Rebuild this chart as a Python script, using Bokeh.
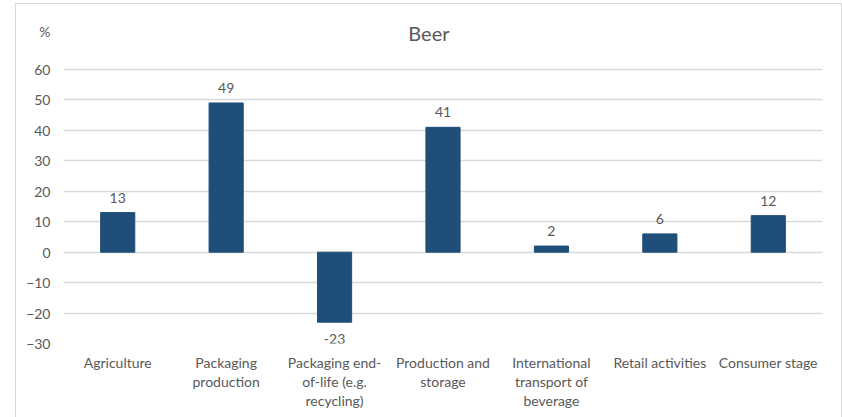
from bokeh.plotting import figure
from bokeh.models import ColumnDataSource, LabelSet, FixedTicker
from bokeh.core.properties import value
from bokeh.embed import file_html
from bokeh.resources import INLINE

# Life-cycle stages and their contribution (%) to beer's footprint
stages = [
    "Agriculture",
    "Packaging\nproduction",
    "Packaging end-\nof-life (e.g.\nrecycling)",
    "Production and\nstorage",
    "International\ntransport of\nbeverage",
    "Retail activities",
    "Consumer stage",
]
shares = [13, 49, -23, 41, 2, 6, 12]
y_ticks = [-30, -20, -10, 0, 10, 20, 30, 40, 50, 60]
title = "Beer"
unit = "%"

BAR = "#1F4E79"
TEXT = "#595959"
GRID = "#D9D9D9"
FONT = "Lato"

# headroom above the 60 gridline holds the unit and the title
Y_TOP = 81.35
UNIT_Y = 72.5
TITLE_Y = 71.9

p = figure(
    x_range=stages, y_range=(-30, Y_TOP),
    frame_width=759, frame_height=339,
    output_backend="svg", toolbar_location=None,
    min_border_left=47, min_border_right=19,
    min_border_top=0, min_border_bottom=84,
)
p.outline_line_color = None
p.background_fill_color = "white"
p.border_fill_color = "white"
# light frame around the chart area
p.styles = {"margin-left": "16px", "margin-top": "4px",
            "outline": "1.5px solid #D9D9D9"}

p.vbar(x=stages, top=shares, bottom=0, width=0.315, color=BAR)

# value labels above positive bars and below negative ones
pos = ColumnDataSource(dict(
    stage=[s for s, v in zip(stages, shares) if v >= 0],
    share=[v for v in shares if v >= 0],
    label=[str(v) for v in shares if v >= 0],
))
neg = ColumnDataSource(dict(
    stage=[s for s, v in zip(stages, shares) if v < 0],
    share=[v for v in shares if v < 0],
    label=[str(v) for v in shares if v < 0],
))
p.add_layout(LabelSet(x="stage", y="share", text="label", source=pos,
                      text_align="center", text_baseline="bottom", y_offset=10,
                      text_font=value(FONT), text_font_size="14px", text_color=TEXT))
p.add_layout(LabelSet(x="stage", y="share", text="label", source=neg,
                      text_align="center", text_baseline="top", y_offset=-12,
                      text_font=value(FONT), text_font_size="14px", text_color=TEXT))

# value axis: numeric ticks plus the unit sign on top
p.yaxis.ticker = FixedTicker(ticks=y_ticks + [UNIT_Y])
p.yaxis.major_label_overrides = {UNIT_Y: unit}
p.yaxis.axis_line_color = None
p.yaxis.major_tick_line_color = None
p.yaxis.major_tick_out = 0
p.yaxis.minor_tick_line_color = None
p.yaxis.minor_tick_out = 0
p.yaxis.major_label_text_font = FONT
p.yaxis.major_label_text_font_size = "14px"
p.yaxis.major_label_text_color = TEXT
p.yaxis.major_label_standoff = 13

p.xaxis.axis_line_color = None
p.xaxis.major_tick_line_color = None
p.xaxis.major_tick_out = 0
p.xaxis.major_label_text_font = FONT
p.xaxis.major_label_text_font_size = "14px"
p.xaxis.major_label_text_color = TEXT
p.xaxis.major_label_text_line_height = 1.13
p.xaxis.major_label_standoff = 10

p.xgrid.grid_line_color = None
p.ygrid.ticker = FixedTicker(ticks=y_ticks)
p.ygrid.grid_line_color = GRID
p.ygrid.grid_line_width = 1.5

# chart title, centred over the whole chart area
p.text(x=[3.37], y=[TITLE_Y], text=[title],
       text_align="center", text_baseline="middle",
       text_font=value(FONT), text_font_size="20px", text_color=TEXT)

open("out.html", "w").write(file_html(p, INLINE))
